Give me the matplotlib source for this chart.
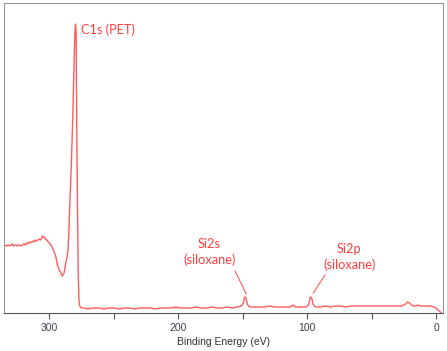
import matplotlib
matplotlib.use("Agg")
import matplotlib.pyplot as plt

# survey spectrum (binding energy in eV, intensity in arb. units)
binding_energy = [
    335, 334, 333, 332, 331, 330, 329, 328, 327, 326, 325, 324, 323, 322, 321, 320,
    319, 318, 317, 316, 315, 314, 313, 312, 311, 310, 309, 308, 307, 306, 305.5, 305,
    304, 303, 302, 301, 300, 299, 298, 297, 296, 295, 294, 293, 292, 291, 290.3, 289.5,
    288.7, 288, 287.2, 286.5, 285.6, 285, 284.1, 283, 282, 281, 280.3, 279.8, 279.3,
    278.9, 278.3, 277.7, 277.2, 276.7, 276, 275, 273, 270, 266, 262, 258, 254, 250,
    246, 242, 238, 234, 230, 226, 222, 218, 214, 210, 206, 202, 198, 194, 190, 186,
    182, 178, 174, 170, 166, 162, 158, 154, 151, 149.5, 148.5, 147.5, 146.5, 145.5,
    144, 141, 137, 133, 129, 125, 121, 117, 113, 111, 109, 105, 101, 99, 97.5, 96.5,
    95.5, 94.5, 93, 90, 86, 82, 78, 74, 70, 66, 62, 58, 54, 50, 46, 42, 38, 34, 30,
    27, 25, 23.5, 22, 20.5, 19, 17.5, 16, 14, 12, 10, 8, 6, 4, 2, 0, -1.5, -3, -4,
]
intensity = [
    67, 68, 67, 68, 67, 68, 69, 67, 68, 68, 67, 68, 68, 67, 68, 69,
    68, 70, 69, 71, 70, 71, 72, 71, 73, 72, 73, 74, 73, 75, 77, 76,
    76, 74, 73, 71, 70, 68, 66, 63, 60, 56, 49, 45, 42, 40, 37, 38,
    40, 45, 51, 55, 63, 80, 113, 150, 193, 245, 280, 289, 280,
    193, 110, 40, 15, 8, 6, 5, 5, 4, 5, 5, 4, 5, 5,
    4, 5, 5, 4, 5, 5, 5, 4, 5, 5, 5, 6, 5, 5, 5, 6,
    5, 5, 6, 5, 5, 6, 5, 6, 7, 10, 16, 15, 9, 7,
    6, 6, 6, 6, 7, 6, 6, 6, 6, 8, 6, 6, 6, 8, 16, 15,
    9, 7, 6, 6, 7, 6, 7, 7, 6, 7, 7, 7, 7, 7, 7, 7, 7, 7, 7,
    7, 8, 9, 11, 10, 8, 7, 7, 8, 7, 7, 7, 7, 7, 6, 5, 3, 1.5, 0,
]

peak_labels = ["C1s (PET)", "Si2s\n(siloxane)", "Si2p\n(siloxane)"]
label_x = [275.5, 176.0, 67.5]
label_y = [283, 61, 56]
pointer_from = [None, (156.0, 42), (86.2, 38)]
pointer_to = [None, (147.3, 19), (95.3, 20)]

line_col = "#ff5c5c"
text_col = "#ff3d3d"

fig = plt.figure(figsize=(4.47, 3.51), dpi=100)
ax = fig.add_axes([4 / 447, 38 / 351, 439 / 447, 310 / 351])

ax.plot(binding_energy, intensity, color=line_col, lw=1.0)

ax.set_xlim(335.3, -5.4)
ax.set_ylim(0, 310)
ax.set_yticks([])
ax.set_xticks([300, 250, 200, 150, 100, 50, 0])
ax.set_xticklabels(["300", "", "200", "", "100", "", "0"],
                   family="Liberation Sans")
ax.tick_params(axis="x", direction="out", length=4, width=0.8, color="#555555",
               labelsize=7.5, labelcolor="#404050", pad=3)

for side in ["left", "top", "right"]:
    ax.spines[side].set_color("#999999")
ax.spines["bottom"].set_color("#555555")

ax.set_xlabel("Binding Energy (eV)", fontsize=7.5, family="Liberation Sans",
              color="#333333", labelpad=3)

# peak labels
ax.text(label_x[0], label_y[0], peak_labels[0], color=text_col, fontsize=9.2,
        family="Lato", ha="left", va="center")
for i in [1, 2]:
    ax.text(label_x[i], label_y[i], peak_labels[i], color=text_col, fontsize=9.2,
            family="Lato", ha="center", va="center", linespacing=1.25)
    ax.plot([pointer_from[i][0], pointer_to[i][0]], [pointer_from[i][1], pointer_to[i][1]],
            color=line_col, lw=0.8)

fig.savefig("out.png", dpi=100)
